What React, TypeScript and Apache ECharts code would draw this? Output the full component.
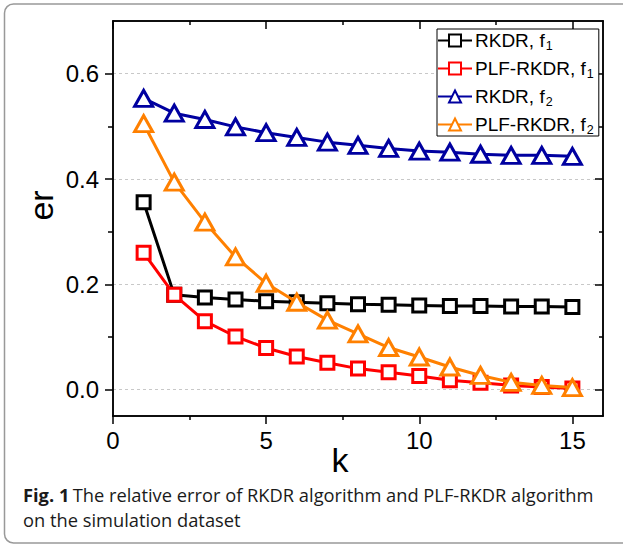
import React, { useEffect, useRef } from "react";
import * as echarts from "echarts";

const kValues = [1, 2, 3, 4, 5, 6, 7, 8, 9, 10, 11, 12, 13, 14, 15];
const rkdrF1 = [0.356, 0.18, 0.175, 0.171, 0.168, 0.166, 0.164, 0.162, 0.161, 0.16, 0.159, 0.159, 0.158, 0.158, 0.157];
const plfF1 = [0.26, 0.18, 0.13, 0.101, 0.079, 0.063, 0.051, 0.04, 0.033, 0.026, 0.018, 0.013, 0.008, 0.005, 0.002];
const rkdrF2 = [0.553, 0.525, 0.513, 0.499, 0.488, 0.479, 0.47, 0.464, 0.458, 0.453, 0.451, 0.447, 0.445, 0.445, 0.443];
const plfF2 = [0.505, 0.394, 0.318, 0.252, 0.202, 0.166, 0.132, 0.106, 0.08, 0.062, 0.043, 0.027, 0.014, 0.008, 0.004];

const seriesNames = ["RKDR, f1", "PLF-RKDR, f1", "RKDR, f2", "PLF-RKDR, f2"];
const seriesColors = ["#000000", "#ff0000", "#0000a0", "#ff8000"];
const seriesSymbols = ["rect", "rect", "triangle", "triangle"];

const xMajor = [0, 5, 10, 15];
const xMinor = [2.5, 7.5, 12.5];
const yMajor = [0, 0.2, 0.4, 0.6];
const yMinor = [0.1, 0.3, 0.5];

const captionBold = "Fig. 1";
const captionLine1 = "The relative error of RKDR algorithm and PLF-RKDR algorithm";
const captionLine2 = "on the simulation dataset";

const X_MIN = 0, X_MAX = 16, Y_MIN = -0.05, Y_MAX = 0.7;

export default function App() {
  const ref = useRef<HTMLDivElement>(null);
  useEffect(() => {
    if (!ref.current) return;
    const chart = echarts.init(ref.current, null, { renderer: "svg" });
    const axisLine = { show: true, onZero: false, lineStyle: { color: "#000", width: 1.5 } };
    const baseX = (position: string, ticks: number[], len: number, inside: boolean, labels: boolean, extra: any = {}) => ({
      type: "value",
      position,
      min: X_MIN,
      max: X_MAX,
      axisLine,
      axisTick: { show: true, customValues: ticks, length: len, inside, lineStyle: { color: "#000", width: 1.5 } },
      axisLabel: labels
        ? { show: true, customValues: ticks, fontSize: 24, color: "#000", fontFamily: "Liberation Sans", margin: 12 }
        : { show: false },
      splitLine: { show: false },
      ...extra,
    });
    const baseY = (position: string, ticks: number[], len: number, inside: boolean, labels: boolean, extra: any = {}) => ({
      type: "value",
      position,
      min: Y_MIN,
      max: Y_MAX,
      axisLine,
      axisTick: { show: true, customValues: ticks, length: len, inside, lineStyle: { color: "#000", width: 1.5 } },
      axisLabel: labels
        ? {
            show: true,
            customValues: ticks,
            fontSize: 24,
            color: "#000",
            fontFamily: "Liberation Sans",
            margin: 14,
            formatter: (v: number) => v.toFixed(1),
          }
        : { show: false },
      splitLine: { show: false },
      ...extra,
    });
    const subMap: Record<string, [string, string]> = {};
    seriesNames.forEach((n) => {
      subMap[n] = [n.slice(0, -1), n.slice(-1)];
    });
    chart.setOption({
      animation: false,
      grid: { left: 113, top: 21, right: 20, bottom: 131, containLabel: false },
      legend: {
        orient: "vertical",
        left: 437,
        top: 29,
        data: seriesNames,
        itemWidth: 34,
        itemHeight: 15,
        itemGap: 5,
        padding: [0, 5, 0, 0],
        borderColor: "#000",
        borderWidth: 1,
        backgroundColor: "#fff",
        formatter: (name: string) => `{n|${subMap[name][0]}}{s|${subMap[name][1]}}`,
        textStyle: {
          color: "#000",
          fontFamily: "Liberation Sans",
          fontSize: 19,
          padding: [0, 0, 0, -2],
          rich: {
            n: { fontSize: 19, lineHeight: 22, fontFamily: "Liberation Sans", color: "#000" },
            s: { fontSize: 12.5, lineHeight: 13, fontFamily: "Liberation Sans", color: "#000", padding: [10, 0, 0, 1] },
          },
        },
      },
      xAxis: [
        baseX("bottom", xMajor, 8, false, true, {
          name: "k",
          nameLocation: "middle",
          nameGap: 27,
          nameMoveOverlap: false,
          nameTextStyle: { fontSize: 34, fontFamily: "Liberation Sans", color: "#000", padding: [0, 36, 0, 0] },
        }),
        baseX("bottom", xMinor, 4, false, false),
        baseX("top", xMajor, 8, true, false),
        baseX("top", xMinor, 4, true, false),
      ],
      yAxis: [
        baseY("left", yMajor, 8, false, true, {
          name: "er",
          nameLocation: "middle",
          nameGap: 55,
          nameMoveOverlap: false,
          nameTextStyle: { fontSize: 34, fontFamily: "Liberation Sans", color: "#000", padding: [0, 0, 0, 26] },
          splitLine: { show: true, lineStyle: { color: "#c8c8c8", type: [3, 3], width: 1 } },
        }),
        baseY("left", yMinor, 5, false, false),
        baseY("right", yMajor, 8, true, false),
        baseY("right", yMinor, 4, true, false),
      ],
      series: [rkdrF1, plfF1, rkdrF2, plfF2].map((vals, i) => ({
        name: seriesNames[i],
        type: "line",
        xAxisIndex: 0,
        yAxisIndex: 0,
        data: kValues.map((k, j) => [k, vals[j]]),
        symbol: seriesSymbols[i],
        symbolSize: seriesSymbols[i] === "rect" ? 13 : [18, 16],
        showAllSymbol: true,
        lineStyle: { color: seriesColors[i], width: 3 },
        itemStyle: { color: "#fff", borderColor: seriesColors[i], borderWidth: 3 },
        emphasis: { disabled: true },
        z: 2 + i,
      })),
      graphic: [
        {
          type: "rect",
          shape: { x: 4.5, y: 4, width: 660, height: 539, r: 9 },
          style: { fill: "none", stroke: "#999", lineWidth: 1.5 },
          silent: true,
          z: -1,
        },
        {
          type: "text",
          x: 23,
          y: 494,
          style: {
            text: `{b|${captionBold}} {r|${captionLine1}}`,
            verticalAlign: "middle",
            rich: {
              b: { fontFamily: "Open Sans", fontWeight: "bold", fontSize: 18.3, fill: "#1a1a1a" },
              r: { fontFamily: "Open Sans", fontSize: 18.3, fill: "#1a1a1a" },
            },
          },
        },
        {
          type: "text",
          x: 23,
          y: 519,
          style: {
            text: captionLine2,
            verticalAlign: "middle",
            fontFamily: "Open Sans",
            fontSize: 18.3,
            fill: "#1a1a1a",
          },
        },
      ],
    });
    return () => chart.dispose();
  }, []);
  return <div ref={ref} style={{ position: "absolute", left: 0, top: 0, width: 623, height: 547 }} />;
}
